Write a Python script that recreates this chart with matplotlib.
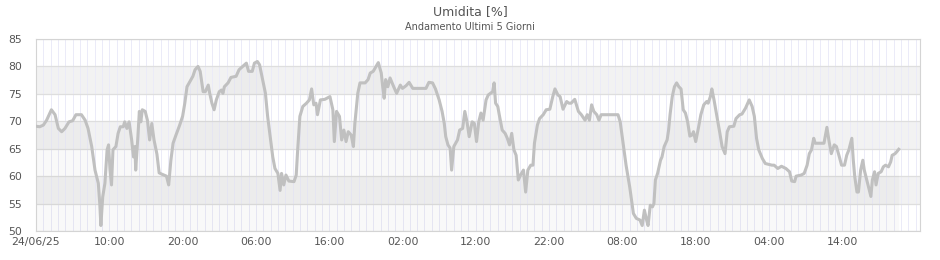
import matplotlib
matplotlib.use('Agg')
import matplotlib.pyplot as plt

# hours since 24/06/25 00:00 and relative humidity (%)
hours = [
    0.0, 0.5, 1.0, 1.45, 2.1, 2.6, 3.05, 3.5, 3.95, 4.5, 5.0, 5.45, 6.2, 6.7,
    7.1, 7.6, 8.05, 8.5, 8.7, 8.85, 9.1, 9.4, 9.7, 9.9, 10.1, 10.3, 10.5, 10.9,
    11.2, 11.5, 11.9, 12.1, 12.4, 12.7, 13.05, 13.3, 13.5, 13.6, 13.9, 14.1,
    14.3, 14.5, 14.9, 15.2, 15.5, 15.8, 16.1, 16.5, 16.8, 17.1, 17.8, 18.1,
    18.4, 18.7, 19.1, 19.6, 20.0, 20.3, 20.6, 20.9, 21.4, 21.7, 22.1, 22.4,
    22.8, 23.1, 23.5, 23.7, 24.0, 24.3, 24.6, 25.0, 25.3, 25.5, 25.7, 26.2,
    26.6, 27.3, 27.7, 28.2, 28.7, 29.0, 29.5, 29.8, 30.2, 30.5, 31.0, 31.3,
    31.6, 32.0, 32.3, 32.6, 33.0, 33.3, 33.5, 33.8, 34.1, 34.5, 35.2, 35.5,
    35.7, 36.0, 36.4, 36.9, 37.3, 37.6, 37.9, 38.2, 38.4, 38.8, 39.4, 40.1,
    40.5, 40.7, 41.0, 41.4, 41.7, 42.0, 42.3, 42.6, 43.0, 43.3, 43.5, 43.9,
    44.2, 44.9, 45.3, 45.6, 46.0, 46.4, 46.7, 47.1, 47.3, 47.5, 47.7, 48.0,
    48.3, 48.8, 49.2, 49.7, 50.0, 50.5, 50.9, 51.4, 53.2, 53.6, 54.1, 54.5,
    55.0, 55.4, 55.7, 55.9, 56.2, 56.5, 56.7, 57.0, 57.5, 57.8, 58.2, 58.5,
    58.8, 59.1, 59.5, 59.8, 60.1, 60.4, 60.7, 61.0, 61.4, 61.7, 62.0, 62.3,
    62.5, 62.7, 63.0, 63.2, 63.6, 64.0, 64.3, 64.6, 64.9, 65.2, 65.5, 65.8,
    66.1, 66.5, 66.8, 67.1, 67.5, 67.8, 68.0, 68.4, 68.7, 69.2, 69.6, 70.1,
    70.5, 70.8, 71.2, 71.5, 71.9, 72.4, 72.7, 73.0, 73.5, 74.0, 74.4, 74.9,
    75.2, 75.5, 75.8, 76.1, 76.5, 76.8, 77.1, 79.4, 79.7, 80.1, 80.5, 81.0,
    81.5, 81.9, 82.4, 82.7, 83.0, 83.3, 83.5, 83.8, 84.1, 84.3, 84.5, 84.8,
    85.2, 85.4, 85.7, 86.1, 86.3, 86.5, 86.8, 87.1, 87.4, 87.7, 88.0, 88.3,
    88.6, 88.9, 89.2, 89.5, 89.7, 90.0, 90.4, 90.7, 91.1, 91.5, 91.7, 92.0,
    92.2, 92.5, 92.9, 93.3, 93.6, 94.0, 94.3, 94.6, 95.2, 95.5, 96.0, 96.3,
    96.8, 97.3, 97.7, 98.0, 98.3, 98.6, 99.1, 99.5, 100.4, 100.7, 101.2,
    101.7, 102.3, 102.8, 103.1, 103.5, 103.7, 104.4, 104.8, 105.2, 105.5,
    105.8, 106.1, 106.3, 107.5, 107.9, 108.2, 108.5, 108.9, 109.2, 109.6,
    109.9, 110.3, 110.6, 110.9, 111.3, 111.5, 111.7, 112.0, 112.2, 112.5,
    112.8, 113.0, 113.4, 113.7, 113.9, 114.1, 114.4, 114.6, 114.9, 115.3,
    115.6, 115.9, 116.3, 116.6, 116.8, 117.2, 117.4, 117.7,
]
humidity = [
    69.1, 69.0, 69.3, 70.2, 72.1, 71.2, 68.7, 68.1, 68.7, 69.9, 70.1, 71.2, 71.2, 70.2,
    68.7, 65.4, 61.1, 58.7, 55.0, 51.0, 56.2, 58.7, 64.8, 65.7, 61.1, 58.4, 64.8, 65.4,
    67.8, 69.0, 69.0, 69.9, 68.7, 69.9, 66.6, 63.5, 65.4, 61.1, 67.2, 71.8,
    69.9, 72.1, 71.8, 70.2, 66.6, 69.6, 66.6, 64.0, 60.6, 60.4, 60.0, 58.4,
    62.9, 66.0, 67.5, 69.3, 70.9, 73.3, 76.3, 77.0, 78.2, 79.4, 80.0, 79.1,
    75.4, 75.4, 76.6, 75.1, 73.3, 72.1, 73.9, 75.4, 75.7, 75.1, 76.3, 77.0,
    78.0, 78.2, 79.4, 80.0, 80.6, 79.1, 79.1, 80.6, 80.9, 80.3, 77.0, 75.1,
    70.9, 66.6, 63.5, 61.4, 60.5, 57.4, 60.5, 58.4, 60.2, 59.1, 59.0, 60.2,
    64.8, 70.9, 72.7, 73.3, 73.9, 75.9, 73.0, 73.3, 71.2, 73.9, 74.0, 74.5,
    72.1, 66.3, 71.8, 70.9, 66.6, 68.4, 66.3, 68.1, 67.5, 65.4, 69.6, 75.1,
    77.0, 77.0, 77.6, 78.8, 79.1, 80.0, 80.7, 78.8, 76.3, 74.2, 77.6, 76.3,
    77.9, 76.3, 75.1, 76.6, 76.0, 76.5, 77.1, 76.0, 76.0, 77.1, 77.0, 75.9,
    73.9, 71.8, 69.6, 67.2, 65.7, 65.1, 61.1, 65.4, 66.6, 68.4, 68.7, 71.8,
    69.9, 67.2, 69.9, 69.6, 66.3, 69.9, 71.5, 70.2, 73.9, 74.8, 75.1, 75.4,
    77.0, 73.3, 72.7, 71.2, 68.4, 67.8, 66.9, 65.7, 67.8, 64.8, 63.8, 59.3,
    60.2, 61.1, 57.1, 61.1, 62.0, 62.0, 66.0, 69.3, 70.5, 71.2, 72.1, 72.2,
    74.5, 75.9, 74.8, 74.5, 72.2, 73.6, 73.3, 73.3, 74.0, 71.8, 71.2, 70.2,
    71.2, 70.2, 73.0, 71.8, 71.2, 70.2, 71.2, 71.2, 69.9, 66.0, 62.0, 58.0,
    53.2, 52.3, 52.0, 51.0, 53.8, 52.0, 51.0, 54.7, 54.4, 55.0, 59.3, 60.5,
    62.9, 63.5, 65.4, 66.6, 68.4, 71.2, 74.5, 76.3, 77.0, 76.3, 75.9, 72.1,
    71.5, 69.9, 67.3, 67.5, 68.1, 66.3, 69.0, 71.2, 73.0, 73.6, 73.3, 74.5,
    75.9, 73.9, 70.9, 67.8, 65.4, 64.1, 68.1, 69.0, 69.1, 70.5, 71.2, 71.3,
    72.4, 73.9, 72.7, 70.9, 66.9, 64.8, 63.2, 62.3, 62.0, 62.0, 61.4,
    61.8, 61.4, 60.8, 59.1, 59.0, 60.0, 60.2, 60.5, 62.0, 64.1,
    64.8, 66.9, 66.0, 66.0, 68.9, 66.3, 64.1, 65.7, 65.4, 63.5,
    62.0, 62.0, 63.8, 64.8, 66.9, 62.9, 59.9, 57.1, 57.1, 61.1,
    62.9, 61.1, 59.0, 57.4, 56.3, 59.3, 60.8, 58.4, 60.5, 60.8,
    61.7, 62.0, 61.7, 62.6, 63.8, 64.1, 64.4, 64.9,
]

tick_hours = [0, 10, 20, 30, 40, 50, 60, 70, 80, 90, 100, 110]
tick_labels = ['24/06/25', '10:00', '20:00', '06:00', '16:00', '02:00',
               '12:00', '22:00', '08:00', '18:00', '04:00', '14:00']
y_ticks = [50, 55, 60, 65, 70, 75, 80, 85]
gray_bands = [(55, 60), (65, 70), (75, 80)]

fig = plt.figure(figsize=(9.4, 2.6), dpi=100)
ax = fig.add_axes([36 / 940, 1 - 231 / 260, 884 / 940, 192 / 260])

for lo, hi in gray_bands:
    ax.axhspan(lo, hi, color='#f2f2f2', lw=0, zorder=0)

# hourly vertical grid
for h in range(0, 121):
    ax.axvline(h, color='#ebebf8', lw=0.7, zorder=1)
for y in y_ticks:
    ax.axhline(y, color='#dedede', lw=0.9, zorder=1)

ax.fill_between(hours, humidity, 50, color='#000000', alpha=0.025, lw=0, zorder=2)
ax.plot(hours, humidity, color='#c0c0c0', lw=2.2, zorder=3)

ax.set_xlim(0, 120.6)
ax.set_ylim(50, 85)
ax.set_xticks(tick_hours)
ax.set_xticklabels(tick_labels)
ax.set_yticks(y_ticks)
ax.tick_params(length=0, labelsize=7.8, labelcolor='#555555', pad=4)
ax.tick_params(axis='y', pad=10)
for s in ax.spines.values():
    s.set_color('#d4d4d4')
    s.set_linewidth(0.8)

fig.text(0.5, 1 - 12 / 260, 'Umidita [%]', ha='center', va='center',
         fontsize=9, color='#555555')
fig.text(0.5, 1 - 27 / 260, 'Andamento Ultimi 5 Giorni', ha='center', va='center',
         fontsize=7, color='#555555')

fig.savefig('out.png', dpi=100)
